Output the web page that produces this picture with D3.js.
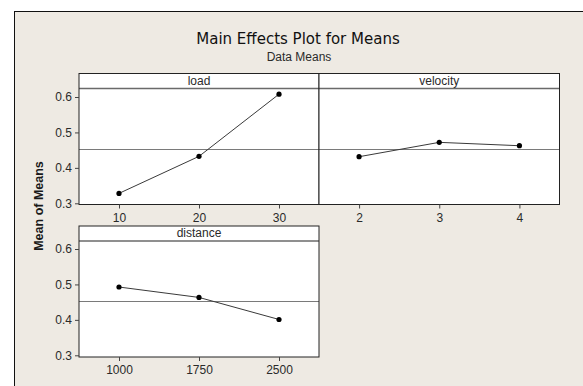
<!DOCTYPE html>
<html>
<head>
<meta charset="utf-8">
<script src="https://cdn.jsdelivr.net/npm/d3@7/dist/d3.min.js"></script>
<style>
  html, body { margin: 0; padding: 0; background: #ffffff; }
  svg { display: block; }
</style>
</head>
<body>
<svg id="chart" width="583" height="386"></svg>
<script>
// ---- Data ----
const factors = ["load", "velocity", "distance"];
const loadLevels = ["10", "20", "30"];
const loadMeans = [0.328, 0.4325, 0.608];
const velocityLevels = ["2", "3", "4"];
const velocityMeans = [0.4315, 0.472, 0.4625];
const distanceLevels = ["1000", "1750", "2500"];
const distanceMeans = [0.4927, 0.4633, 0.4011];
const grandMean = 0.454;
const yTicks = [0.3, 0.4, 0.5, 0.6];
const titleText = "Main Effects Plot for Means";
const subtitleText = "Data Means";
const yLabelText = "Mean of Means";

const panelsData = [
  { name: factors[0], levels: loadLevels, means: loadMeans, col: 0, row: 0 },
  { name: factors[1], levels: velocityLevels, means: velocityMeans, col: 1, row: 0 },
  { name: factors[2], levels: distanceLevels, means: distanceMeans, col: 0, row: 1 }
];

// ---- Layout ----
const W = 583, H = 386;
const svg = d3.select("#chart");
const labelFont = "'Liberation Sans', Arial, sans-serif";
const txtColor = "#2a2a2a";

svg.append("rect").attr("x", 0).attr("y", 0).attr("width", W).attr("height", H).attr("fill", "#ffffff");
svg.append("rect")
  .attr("x", 14.5).attr("y", 11.5).attr("width", W).attr("height", H)
  .attr("fill", "#eeeae3").attr("stroke", "#111").attr("stroke-width", 1);

svg.append("text").attr("x", 298).attr("y", 44)
  .attr("text-anchor", "middle")
  .style("font-family", "'DejaVu Sans', Verdana, sans-serif")
  .style("font-size", "15px").attr("fill", "#111").text(titleText);
svg.append("text").attr("x", 299).attr("y", 61)
  .attr("text-anchor", "middle")
  .style("font-family", labelFont)
  .style("font-size", "12px").attr("fill", txtColor).text(subtitleText);

svg.append("text")
  .attr("transform", "translate(43,206) rotate(-90)")
  .attr("text-anchor", "middle")
  .style("font-family", labelFont).style("font-weight", "bold")
  .style("font-size", "12.5px").attr("fill", "#1a1a1a").text(yLabelText);

const colX = [[79, 319], [319, 559.5]];
const rowY = [
  { top: 73.5, head: 88.5, bottom: 204.5, y03: 203.3, y06: 97 },
  { top: 226, head: 241, bottom: 357, y03: 355.3, y06: 249 }
];

panelsData.forEach(p => {
  const [x0, x1] = colX[p.col];
  const r = rowY[p.row];
  const g = svg.append("g");

  const x = d3.scalePoint().domain(p.levels).range([x0, x1]).padding(0.5);
  const y = d3.scaleLinear().domain([0.3, 0.6]).range([r.y03, r.y06]);

  // plot area
  g.append("rect").attr("x", x0).attr("y", r.top).attr("width", x1 - x0).attr("height", r.bottom - r.top)
    .attr("fill", "#ffffff");

  // header
  g.append("text").attr("x", (x0 + x1) / 2).attr("y", r.top + 11)
    .attr("text-anchor", "middle")
    .style("font-family", labelFont).style("font-size", "12px")
    .attr("fill", txtColor).text(p.name);
  g.append("line").attr("x1", x0).attr("x2", x1).attr("y1", r.head).attr("y2", r.head)
    .attr("stroke", "#6a6a6a").attr("stroke-width", 1.3);

  // reference line
  g.append("line").attr("x1", x0).attr("x2", x1)
    .attr("y1", Math.round(y(grandMean)) + 0.5).attr("y2", Math.round(y(grandMean)) + 0.5)
    .attr("stroke", "#7a7a7a").attr("stroke-width", 1);

  // data line & points
  const pts = p.levels.map((l, i) => [x(l), y(p.means[i])]);
  g.append("path").attr("d", d3.line()(pts)).attr("fill", "none")
    .attr("stroke", "#3a3a3a").attr("stroke-width", 1);
  g.selectAll("circle").data(pts).join("circle")
    .attr("cx", d => d[0]).attr("cy", d => d[1]).attr("r", 2.6).attr("fill", "#000");

  // frame
  g.append("rect").attr("x", x0).attr("y", r.top).attr("width", x1 - x0).attr("height", r.bottom - r.top)
    .attr("fill", "none").attr("stroke", "#222").attr("stroke-width", 1);

  // x axis
  const xa = g.append("g").attr("transform", `translate(0,${r.bottom})`)
    .call(d3.axisBottom(x).tickSize(4).tickPadding(4.5));
  xa.select(".domain").remove();
  xa.selectAll("line").attr("stroke", "#444");
  xa.selectAll("text").style("font-family", labelFont).style("font-size", "12px").attr("fill", txtColor);

  // y axis (only on left column)
  if (p.col === 0) {
    const ya = g.append("g").attr("transform", `translate(${x0},0)`)
      .call(d3.axisLeft(y).tickValues(yTicks).tickFormat(d3.format(".1f")).tickSize(4).tickPadding(3));
    ya.select(".domain").remove();
    ya.selectAll("line").attr("stroke", "#444");
    ya.selectAll("text").style("font-family", labelFont).style("font-size", "12px").attr("fill", txtColor);
  }
});
</script>
</body>
</html>
